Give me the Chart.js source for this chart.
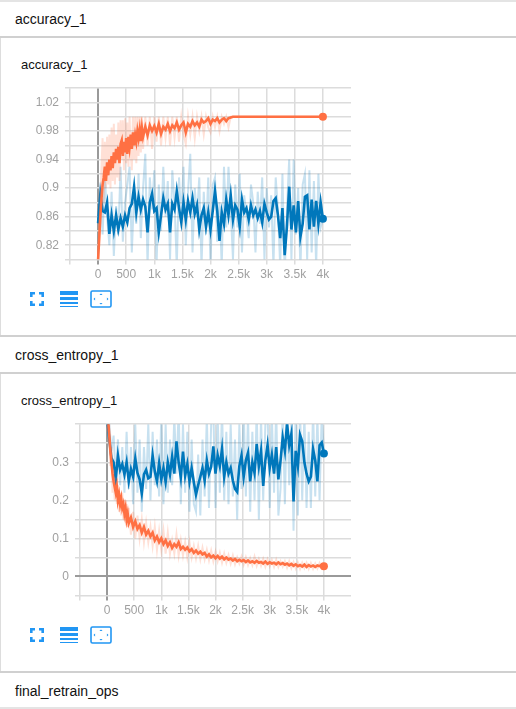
<!DOCTYPE html>
<html>
<head>
<meta charset="utf-8">
<title>accuracy_1</title>
<script src="https://cdn.jsdelivr.net/npm/chart.js@4"></script>
<style>
  html, body { margin: 0; padding: 0; background: #fff; }
  body { width: 516px; height: 709px; position: relative; overflow: hidden; font-family: "Liberation Sans", sans-serif; color: #111; }
  .bar { position: absolute; left: 0; width: 516px; font-size: 14px; line-height: 20px; padding-left: 15px; box-sizing: border-box; }
  .line { position: absolute; left: 0; width: 516px; height: 2px; background: #d0d0d0; }
  .card { position: absolute; left: 0; width: 516px; border-left: 1px solid #ddd; box-sizing: border-box; }
  .title { position: absolute; left: 21px; font-size: 13px; line-height: 18px; }
  canvas { position: absolute; left: 0; }
  svg { position: absolute; }
</style>
</head>
<body>
<div class="line" style="top:0;background:#e4e4e4"></div>
<div class="bar" style="top:9px">accuracy_1</div>
<div class="line" style="top:36px"></div>
<div class="card" style="top:38px;height:297px"></div>
<div class="title" style="top:56px">accuracy_1</div>
<canvas id="acc-chart"></canvas>
<div class="line" style="top:335px"></div>
<div class="bar" style="top:345px">cross_entropy_1</div>
<div class="line" style="top:372px"></div>
<div class="card" style="top:374px;height:297px"></div>
<div class="title" style="top:392px">cross_entropy_1</div>
<canvas id="loss-chart"></canvas>
<div class="line" style="top:671px"></div>
<div class="bar" style="top:681px">final_retrain_ops</div>
<div class="line" style="top:707px;background:#e4e4e4"></div>
<script>
const xTicks = [-500, 0, 500, 1000, 1500, 2000, 2500, 3000, 3500, 4000];
const xTickLabels = ['', '0', '500', '1k', '1.5k', '2k', '2.5k', '3k', '3.5k', '4k'];

const accTicks = [0.8, 0.82, 0.84, 0.86, 0.88, 0.9, 0.92, 0.94, 0.96, 0.98, 1, 1.02, 1.04];
const accTickLabels = ['', '0.82', '', '0.86', '', '0.9', '', '0.94', '', '0.98', '', '1.02', ''];
const lossTicks = [-0.05, 0, 0.05, 0.1, 0.15, 0.2, 0.25, 0.3, 0.35, 0.4];
const lossTickLabels = ['', '0', '', '0.1', '', '0.2', '', '0.3', '', ''];

const blueSteps = [
  0, 40, 80, 120, 160, 200, 240, 280, 320, 360,
  400, 440, 480, 520, 560, 600, 640, 680, 720, 760,
  800, 840, 880, 920, 960, 1000, 1040, 1080, 1120, 1160,
  1200, 1240, 1280, 1320, 1360, 1400, 1440, 1480, 1520, 1560,
  1600, 1640, 1680, 1720, 1760, 1800, 1840, 1880, 1920, 1960,
  2000, 2040, 2080, 2120, 2160, 2200, 2240, 2280, 2320, 2360,
  2400, 2440, 2480, 2520, 2560, 2600, 2640, 2680, 2720, 2760,
  2800, 2840, 2880, 2920, 2960, 3000, 3040, 3080, 3120, 3160,
  3200, 3240, 3280, 3320, 3360, 3400, 3440, 3480, 3520, 3560,
  3600, 3640, 3680, 3720, 3760, 3800, 3840, 3880, 3920, 3960,
  4000
];

const accBlueSmooth = [
  0.851, 0.892, 0.868, 0.866, 0.880, 0.836, 0.862, 0.840, 0.862, 0.842,
  0.858, 0.846, 0.862, 0.852, 0.872, 0.878, 0.902, 0.866, 0.888, 0.870,
  0.884, 0.874, 0.838, 0.880, 0.892, 0.868, 0.872, 0.838, 0.862, 0.886,
  0.870, 0.878, 0.838, 0.878, 0.870, 0.896, 0.872, 0.852, 0.880, 0.856,
  0.882, 0.866, 0.886, 0.864, 0.876, 0.842, 0.862, 0.872, 0.846, 0.866,
  0.842, 0.868, 0.896, 0.868, 0.826, 0.866, 0.850, 0.884, 0.862, 0.890,
  0.856, 0.876, 0.870, 0.846, 0.884, 0.866, 0.872, 0.856, 0.876, 0.862,
  0.870, 0.858, 0.868, 0.852, 0.878, 0.866, 0.856, 0.860, 0.882, 0.886,
  0.862, 0.830, 0.872, 0.806, 0.846, 0.902, 0.842, 0.876, 0.838, 0.882,
  0.832, 0.850, 0.888, 0.890, 0.842, 0.884, 0.846, 0.882, 0.850, 0.880,
  0.857
];
const accBlueRaw = [
  0.850, 0.895, 0.835, 0.915, 0.860, 0.820, 0.895, 0.805, 0.875, 0.835,
  0.930, 0.825, 0.880, 0.905, 0.930, 0.810, 0.890, 0.850, 0.920, 0.830,
  0.900, 0.948, 0.790, 0.915, 0.870, 0.925, 0.790, 0.905, 0.840, 0.930,
  0.860, 0.910, 0.800, 0.925, 0.880, 0.790, 0.915, 0.860, 0.930, 0.820,
  0.895, 0.948, 0.810, 0.900, 0.860, 0.915, 0.790, 0.895, 0.835, 0.915,
  0.790, 0.905, 0.915, 0.825, 0.880, 0.790, 0.930, 0.845, 0.930, 0.870,
  0.800, 0.905, 0.845, 0.920, 0.810, 0.890, 0.860, 0.830, 0.905, 0.880,
  0.810, 0.895, 0.850, 0.915, 0.800, 0.900, 0.845, 0.890, 0.790, 0.915,
  0.870, 0.790, 0.920, 0.780, 0.870, 0.940, 0.800, 0.940, 0.835, 0.900,
  0.785, 0.905, 0.920, 0.800, 0.925, 0.810, 0.910, 0.790, 0.920, 0.845,
  0.857
];

const accOrangeSteps = [
  0, 20, 40, 60, 80, 100, 120, 140, 160, 180,
  200, 220, 240, 260, 280, 300, 320, 340, 360, 380,
  400, 420, 440, 460, 480, 500, 520, 540, 560, 580,
  600, 620, 640, 660, 680, 700, 720, 740, 760, 780,
  800,
  840, 880, 920, 960, 1000, 1040, 1080, 1120, 1160, 1200,
  1240, 1280, 1320, 1360, 1400, 1440, 1480, 1520, 1560, 1600,
  1640, 1680, 1720, 1760, 1800, 1840, 1880, 1920, 1960, 2000,
  2040, 2080, 2120, 2160, 2200, 2240, 2280, 2320, 2360, 2400,
  4000
];
const accOrangeSmooth = [
  0.800, 0.830, 0.860, 0.885, 0.905, 0.915, 0.930, 0.910, 0.936, 0.918,
  0.940, 0.925, 0.945, 0.928, 0.950, 0.935, 0.955, 0.940, 0.958, 0.935,
  0.962, 0.967, 0.945, 0.965, 0.950, 0.970, 0.948, 0.972, 0.958, 0.975,
  0.955, 0.978, 0.960, 0.974, 0.965, 0.980, 0.970, 0.982, 0.966, 0.984,
  0.972,
  0.986, 0.974, 0.988, 0.980, 0.987, 0.978, 0.990, 0.976, 0.986, 0.982,
  0.990, 0.980, 0.988, 0.984, 0.992, 0.982, 0.988, 0.992, 0.978, 0.990,
  0.986, 0.994, 0.988, 0.992, 0.986, 0.996, 0.992, 0.994, 0.998, 0.990,
  0.996, 0.994, 0.998, 0.992, 0.996, 0.998, 0.994, 0.998, 0.999, 1.000,
  1.000
];
const accOrangeRaw = [
  0.800, 0.845, 0.880, 0.930, 0.970, 0.880, 0.965, 0.900, 0.972, 0.905,
  0.975, 0.900, 0.985, 0.910, 0.990, 0.905, 0.975, 0.915, 0.992, 0.910,
  0.995, 0.940, 0.995, 0.925, 0.998, 0.935, 0.992, 0.930, 1.000, 0.950,
  0.925, 1.000, 0.940, 1.000, 0.935, 1.000, 0.945, 1.000, 0.950, 1.000,
  0.955,
  1.000, 0.960, 1.000, 0.955, 1.000, 0.965, 1.000, 0.960, 1.000, 0.970,
  1.000, 0.960, 1.000, 0.970, 1.000, 0.965, 1.000, 0.975, 0.962, 1.000,
  0.975, 1.000, 0.970, 1.000, 0.980, 1.000, 0.975, 1.000, 0.985, 0.978,
  1.000, 0.985, 1.000, 0.980, 1.000, 0.990, 1.000, 0.985, 1.000, 1.000,
  1.000
];

const lossBlueSmooth = [
  0.420, 0.360, 0.312, 0.300, 0.254, 0.318, 0.280, 0.295, 0.268, 0.300,
  0.250, 0.282, 0.262, 0.310, 0.272, 0.255, 0.218, 0.268, 0.280, 0.258,
  0.262, 0.318, 0.276, 0.250, 0.298, 0.255, 0.285, 0.248, 0.300, 0.268,
  0.315, 0.270, 0.355, 0.300, 0.260, 0.328, 0.265, 0.295, 0.250, 0.285,
  0.248, 0.215, 0.240, 0.262, 0.285, 0.252, 0.305, 0.270, 0.288, 0.342,
  0.270, 0.318, 0.290, 0.335, 0.262, 0.300, 0.270, 0.285, 0.252, 0.230,
  0.222, 0.290, 0.318, 0.262, 0.305, 0.325, 0.250, 0.300, 0.272, 0.348,
  0.290, 0.330, 0.238, 0.305, 0.345, 0.285, 0.320, 0.270, 0.340, 0.255,
  0.305, 0.365, 0.330, 0.402, 0.345, 0.375, 0.197, 0.330, 0.290, 0.372,
  0.355, 0.300, 0.270, 0.250, 0.262, 0.335, 0.305, 0.250, 0.345, 0.352,
  0.323
];
const lossBlueRaw = [
  0.42, 0.40, 0.33, 0.37, 0.26, 0.36, 0.24, 0.34, 0.22, 0.38,
  0.23, 0.34, 0.19, 0.40, 0.22, 0.36, 0.17, 0.34, 0.23, 0.40,
  0.20, 0.38, 0.24, 0.36, 0.21, 0.42, 0.19, 0.40, 0.22, 0.36,
  0.24, 0.42, 0.27, 0.44, 0.19, 0.40, 0.22, 0.38, 0.17, 0.36,
  0.19, 0.17, 0.32, 0.16, 0.36, 0.21, 0.42, 0.18, 0.40, 0.44,
  0.18, 0.42, 0.22, 0.44, 0.20, 0.38, 0.19, 0.40, 0.21, 0.36,
  0.15, 0.40, 0.23, 0.44, 0.21, 0.42, 0.17, 0.38, 0.20, 0.44,
  0.15, 0.42, 0.20, 0.40, 0.44, 0.18, 0.42, 0.22, 0.44, 0.16,
  0.23, 0.44, 0.19, 0.46, 0.24, 0.42, 0.12, 0.44, 0.16, 0.44,
  0.20, 0.43, 0.18, 0.38, 0.18, 0.44, 0.21, 0.42, 0.20, 0.43,
  0.323
];

const lossOrangeSteps = [
  0, 20, 40, 60, 80, 100, 120, 140, 160, 180,
  200, 220, 240, 260, 280, 300, 320, 340, 360, 380,
  400,
  440, 480, 520, 560, 600, 640, 680, 720, 760, 800,
  840, 880, 920, 960, 1000, 1040, 1080, 1120, 1160, 1200,
  1240, 1280, 1320, 1360, 1400, 1440, 1480, 1520, 1560, 1600,
  1640, 1680, 1720, 1760, 1800, 1840, 1880, 1920, 1960, 2000,
  2040, 2080, 2120, 2160, 2200, 2240, 2280, 2320, 2360, 2400,
  2440, 2480, 2520, 2560, 2600, 2640, 2680, 2720, 2760, 2800,
  2840, 2880, 2920, 2960, 3000, 3040, 3080, 3120, 3160, 3200,
  3240, 3280, 3320, 3360, 3400, 3440, 3480, 3520, 3560, 3600,
  3640, 3680, 3720, 3760, 3800, 3840, 3880, 3920, 3960, 4000
];
const lossOrangeSmooth = [
  0.46, 0.41, 0.37, 0.33, 0.30, 0.27, 0.25, 0.235, 0.22, 0.235,
  0.20, 0.215, 0.19, 0.205, 0.18, 0.19, 0.165, 0.18, 0.15, 0.165,
  0.14,
  0.155, 0.13, 0.145, 0.125, 0.135, 0.115, 0.13, 0.11, 0.12, 0.105,
  0.115, 0.095, 0.105, 0.09, 0.10, 0.085, 0.095, 0.08, 0.09, 0.075,
  0.085, 0.078, 0.09, 0.072, 0.078, 0.07, 0.076, 0.066, 0.072, 0.062,
  0.068, 0.06, 0.065, 0.058, 0.062, 0.052, 0.058, 0.05, 0.055, 0.048,
  0.054, 0.047, 0.052, 0.045, 0.05, 0.044, 0.047, 0.042, 0.046, 0.04,
  0.044, 0.04, 0.043, 0.038, 0.042, 0.037, 0.04, 0.036, 0.041, 0.036,
  0.038, 0.034, 0.039, 0.033, 0.037, 0.034, 0.036, 0.032, 0.037, 0.032,
  0.035, 0.031, 0.034, 0.029, 0.033, 0.028, 0.032, 0.027, 0.030, 0.026,
  0.031, 0.025, 0.030, 0.026, 0.029, 0.025, 0.029, 0.027, 0.030, 0.027
];
const lossOrangeRaw = [
  0.46, 0.38, 0.40, 0.29, 0.34, 0.22, 0.28, 0.20, 0.26, 0.19,
  0.24, 0.17, 0.22, 0.16, 0.22, 0.15, 0.20, 0.14, 0.19, 0.13,
  0.18,
  0.11, 0.17, 0.10, 0.16, 0.10, 0.15, 0.09, 0.14, 0.09, 0.13,
  0.08, 0.13, 0.07, 0.12, 0.07, 0.12, 0.06, 0.115, 0.06, 0.095,
  0.06, 0.11, 0.055, 0.095, 0.055, 0.09, 0.05, 0.09, 0.05, 0.08,
  0.048, 0.08, 0.045, 0.075, 0.045, 0.07, 0.042, 0.068, 0.04, 0.065,
  0.04, 0.062, 0.036, 0.06, 0.036, 0.056, 0.034, 0.055, 0.032, 0.05,
  0.034, 0.052, 0.031, 0.05, 0.03, 0.048, 0.03, 0.052, 0.028, 0.046,
  0.028, 0.046, 0.026, 0.045, 0.027, 0.043, 0.025, 0.044, 0.025, 0.04,
  0.026, 0.04, 0.023, 0.04, 0.022, 0.038, 0.021, 0.037, 0.02, 0.036,
  0.022, 0.036, 0.02, 0.035, 0.02, 0.034, 0.021, 0.035, 0.021, 0.027
];

const BLUE = '#0077bb';
const ORANGE = '#ff7043';
const GRID = '#dcdcdc';
const ZERO = '#9a9a9a';

function toPoints(steps, values) {
  return steps.map((x, i) => ({ x, y: values[i] }));
}

function rawDataset(steps, values, color) {
  return {
    data: toPoints(steps, values),
    borderColor: color + '38',
    borderWidth: 2,
    pointRadius: 0,
    tension: 0
  };
}

function smoothDataset(steps, values, color) {
  const last = steps.length - 1;
  return {
    data: toPoints(steps, values),
    borderColor: color,
    backgroundColor: color,
    borderWidth: 2.6,
    pointRadius: ctx => (ctx.dataIndex === last ? 4 : 0),
    pointBorderWidth: 0,
    tension: 0
  };
}

function renderChart(id, cfg) {
  const canvas = document.getElementById(id);
  canvas.style.top = cfg.top + 'px';
  canvas.width = 360;
  canvas.height = cfg.height;
  canvas.style.width = '360px';
  canvas.style.height = cfg.height + 'px';
  new Chart(canvas.getContext('2d'), {
    type: 'line',
    data: { datasets: cfg.datasets },
    options: {
      responsive: false,
      animation: false,
      layout: { padding: { top: cfg.plotTop - cfg.top, right: 360 - 351, left: 0, bottom: 0 } },
      plugins: { legend: { display: false }, tooltip: { enabled: false } },
      scales: {
        x: {
          type: 'linear',
          min: -500,
          max: 4500,
          afterBuildTicks: axis => { axis.ticks = xTicks.map(value => ({ value })); },
          afterFit: axis => { axis.height = cfg.top + cfg.height - cfg.plotBottom; },
          border: { display: false },
          grid: {
            color: c => (c.tick && c.tick.value === 0 ? ZERO : GRID),
            lineWidth: c => (c.tick && c.tick.value === 0 ? 2 : 1.5),
            tickLength: 5
          },
          ticks: {
            maxRotation: 0,
            autoSkip: false,
            color: '#a0a0a0',
            padding: 3,
            font: { size: 12, family: '"Liberation Sans", sans-serif' },
            callback: value => xTickLabels[xTicks.indexOf(value)]
          }
        },
        y: {
          min: cfg.yTicks[0],
          max: cfg.yTicks[cfg.yTicks.length - 1],
          afterBuildTicks: axis => { axis.ticks = cfg.yTicks.map(value => ({ value })); },
          afterFit: axis => { axis.width = cfg.plotLeft; },
          border: { display: false },
          grid: {
            color: c => (c.tick && c.tick.value === 0 ? ZERO : GRID),
            lineWidth: c => (c.tick && c.tick.value === 0 ? 2 : 1.5),
            tickLength: 5
          },
          ticks: {
            autoSkip: false,
            color: '#a0a0a0',
            padding: 6,
            font: { size: 12, family: '"Liberation Sans", sans-serif' },
            callback: value => cfg.yTickLabels[cfg.yTicks.indexOf(value)]
          }
        }
      }
    }
  });
}

function addIcons(top) {
  const color = '#2196f3';
  const icons = `
  <svg style="left:30px;top:${top + 2}px" width="14" height="14" viewBox="0 0 14 14" fill="none" stroke="${color}" stroke-width="2.6">
    <path d="M1.3 5V1.3H5M9 1.3H12.7V5M12.7 9V12.7H9M5 12.7H1.3V9"/>
  </svg>
  <svg style="left:60px;top:${top + 1}px" width="18" height="16" viewBox="0 0 18 16" fill="${color}">
    <rect x="0" y="0" width="18" height="4"/><rect x="0" y="6" width="18" height="3"/><rect x="0" y="11" width="18" height="2"/><rect x="0" y="15" width="18" height="1"/>
  </svg>
  <svg style="left:90px;top:${top}px" width="22" height="18" viewBox="0 0 22 18" fill="${color}">
    <rect x="1" y="1" width="20" height="16" rx="1.5" fill="none" stroke="${color}" stroke-width="1.6"/>
    <path d="M11 3.5l1.6 1.6h-3.2zM11 14.5l-1.6-1.6h3.2zM3.5 9l1.6-1.6v3.2zM18.5 9l-1.6 1.6v-3.2z"/>
  </svg>`;
  document.body.insertAdjacentHTML('beforeend', icons);
}

renderChart('acc-chart', {
  top: 75, height: 215, plotTop: 83, plotBottom: 259.5, plotLeft: 70,
  yTicks: accTicks, yTickLabels: accTickLabels,
  datasets: [
    smoothDataset(accOrangeSteps, accOrangeSmooth, ORANGE),
    rawDataset(accOrangeSteps, accOrangeRaw, ORANGE),
    smoothDataset(blueSteps, accBlueSmooth, BLUE),
    rawDataset(blueSteps, accBlueRaw, BLUE)
  ]
});
renderChart('loss-chart', {
  top: 411, height: 215, plotTop: 419, plotBottom: 595.5, plotLeft: 80,
  yTicks: lossTicks, yTickLabels: lossTickLabels,
  datasets: [
    smoothDataset(lossOrangeSteps, lossOrangeSmooth, ORANGE),
    rawDataset(lossOrangeSteps, lossOrangeRaw, ORANGE),
    smoothDataset(blueSteps, lossBlueSmooth, BLUE),
    rawDataset(blueSteps, lossBlueRaw, BLUE)
  ]
});
addIcons(290);
addIcons(626);
</script>
</body>
</html>
